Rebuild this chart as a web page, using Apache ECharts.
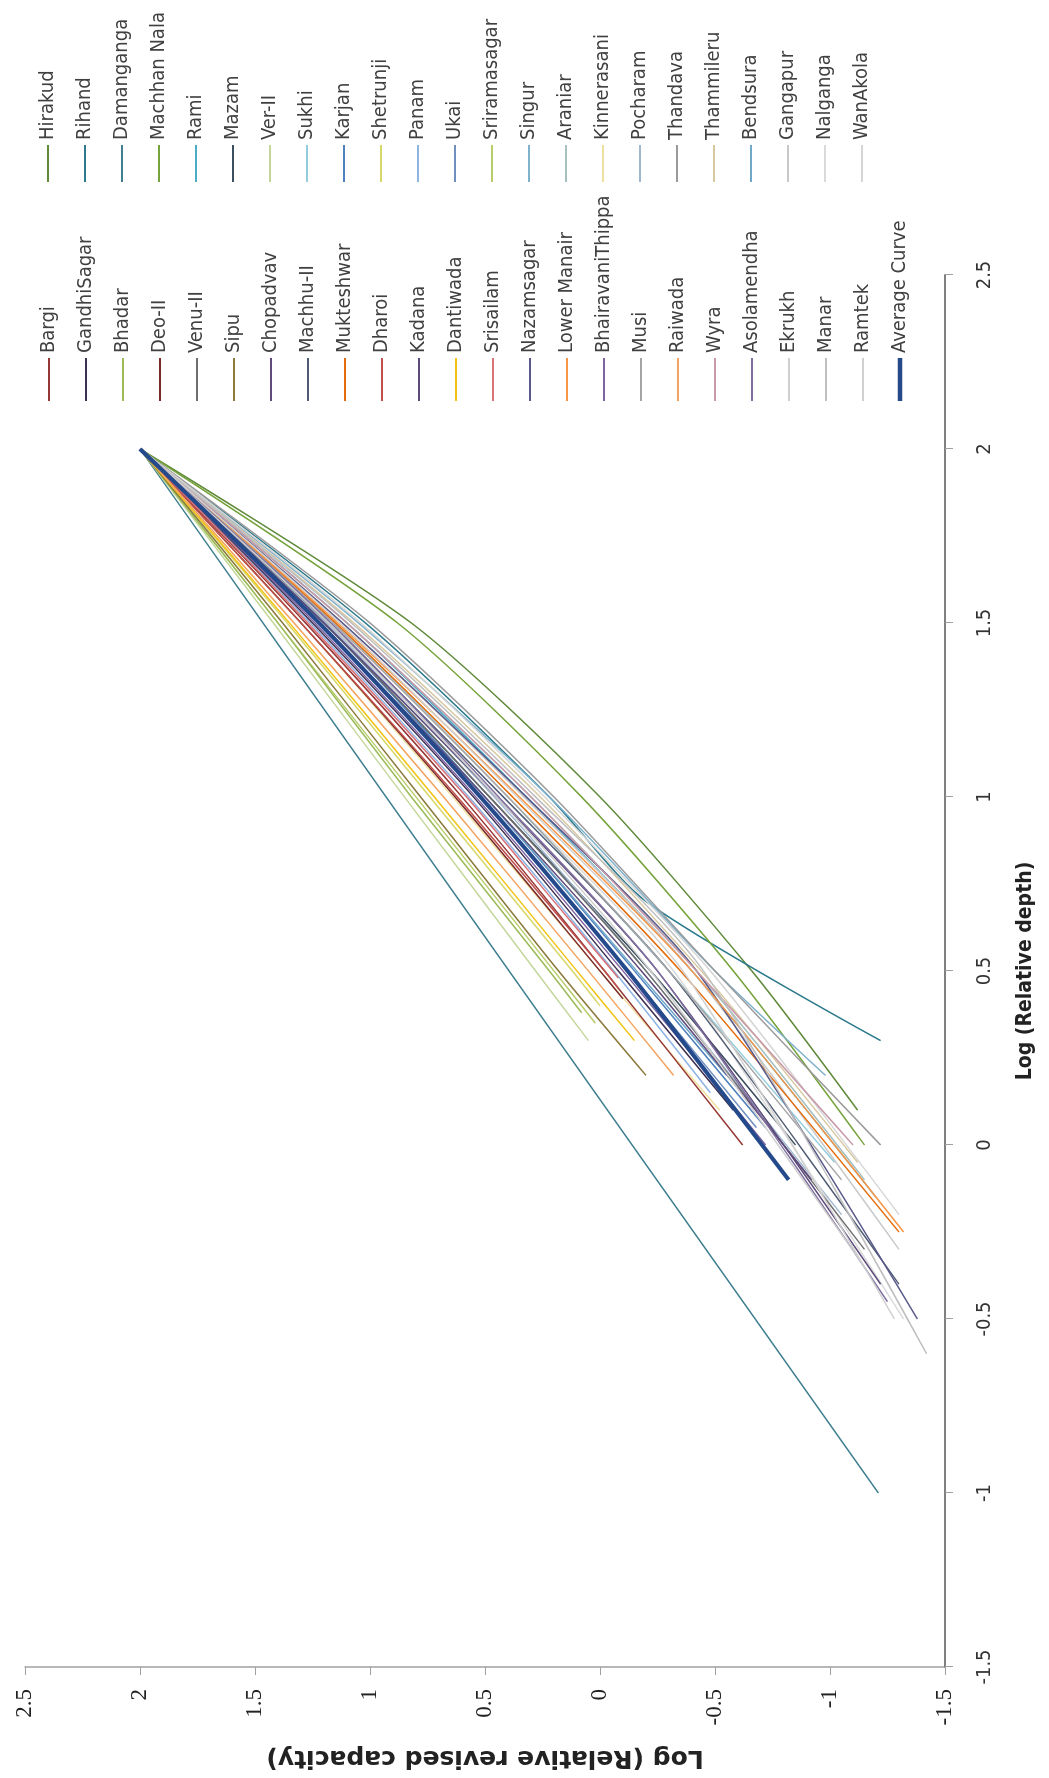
<!DOCTYPE html>
<html><head><meta charset="utf-8">
<script src="https://cdn.jsdelivr.net/npm/echarts@6/dist/echarts.min.js"></script>
<style>
html,body{margin:0;padding:0;background:#fff;width:1049px;height:1778px;overflow:hidden;}
#chart{position:absolute;left:0;top:0;width:1778px;height:1049px;transform-origin:0 0;transform:translateY(1778px) rotate(-90deg);}
</style></head><body><div id="chart"></div>
<script>
// Axis ranges / ticks (log values)
const axisMin = -1.5, axisMax = 2.5, axisStep = 0.5;

// Legend columns (as in the reference)
const legendColA = ['Bargi','GandhiSagar','Bhadar','Deo-II','Venu-II','Sipu','Chopadvav','Machhu-II','Mukteshwar','Dharoi','Kadana','Dantiwada','Srisailam','Nazamsagar','Lower Manair','BhairavaniThippa','Musi','Raiwada','Wyra','Asolamendha','Ekrukh','Manar','Ramtek','Average Curve'];
const legendColB = ['Hirakud','Rihand','Damanganga','Machhan Nala','Rami','Mazam','Ver-II','Sukhi','Karjan','Shetrunji','Panam','Ukai','Sriramasagar','Singur','Araniar','Kinnerasani','Pocharam','Thandava','Thammileru','Bendsura','Gangapur','Nalganga','WanAkola'];

// Each series: [log relative depth, log relative revised capacity]
const bargi        = [[2,2],[1.5,1.28],[1,0.60],[0.5,-0.02],[0.0,-0.62]];
const gandhiSagar  = [[2,2],[1.5,1.25],[1,0.55],[0.5,-0.08],[0.1,-0.58]];
const bhadar       = [[2,2],[1.5,1.40],[1,0.82],[0.5,0.22],[0.38,0.08]];
const deoII        = [[2,2],[1.5,1.30],[1,0.63],[0.5,0.00],[0.42,-0.10]];
const venuII       = [[2,2],[1.5,1.20],[1,0.48],[0.5,-0.20],[-0.3,-1.15]];
const sipu         = [[2,2],[1.5,1.38],[1,0.78],[0.5,0.18],[0.2,-0.20]];
const chopadvav    = [[2,2],[1.5,1.22],[1,0.50],[0.5,-0.18],[-0.1,-0.92]];
const machhuII     = [[2,2],[1.5,1.18],[1,0.42],[0.5,-0.30],[-0.4,-1.30]];
const mukteshwar   = [[2,2],[1.5,1.15],[1,0.38],[0.5,-0.35],[-0.25,-1.30]];
const dharoi       = [[2,2],[1.5,1.30],[1,0.62],[0.5,-0.02],[0.45,-0.08]];
const kadana       = [[2,2],[1.5,1.20],[1,0.45],[0.5,-0.25],[-0.4,-1.22]];
const dantiwada    = [[2,2],[1.5,1.35],[1,0.72],[0.5,0.10],[0.3,-0.15]];
const srisailam    = [[2,2],[1.5,1.27],[1,0.58],[0.7,0.20],[0.48,-0.08]];
const nazamsagar   = [[2,2],[1.5,1.12],[1,0.32],[0.5,-0.42],[-0.5,-1.38]];
const lowerManair  = [[2,2],[1.5,1.14],[1,0.35],[0.5,-0.40],[-0.25,-1.32]];
const bhairavani   = [[2,2],[1.5,1.24],[1,0.54],[0.5,-0.10],[0.0,-0.72]];
const musi         = [[2,2],[1.5,1.16],[1,0.40],[0.5,-0.30],[-0.1,-1.05]];
const raiwada      = [[2,2],[1.5,1.33],[1,0.68],[0.5,0.05],[0.2,-0.32]];
const wyra         = [[2,2],[1.5,1.10],[1,0.30],[0.5,-0.42],[0.0,-1.10]];
const asolamendha  = [[2,2],[1.5,1.17],[1,0.44],[0.5,-0.25],[-0.45,-1.25]];
const ekrukh       = [[2,2],[1.5,1.18],[1,0.45],[0.5,-0.22],[-0.35,-1.15]];
const manar        = [[2,2],[1.5,1.08],[1,0.28],[0.5,-0.45],[-0.6,-1.42]];
const ramtek       = [[2,2],[1.5,1.13],[1,0.36],[0.5,-0.36],[-0.5,-1.28]];
const averageCurve = [[2,2],[1.5,1.22],[1,0.52],[0.5,-0.12],[-0.1,-0.82]];
const hirakud      = [[2,2],[1.5,0.82],[1,0.00],[0.5,-0.66],[0.1,-1.12]];
const rihand       = [[2,2],[1.5,1.02],[1,0.22],[0.7,-0.20],[0.3,-1.22]];
const damanganga   = [[2,2],[1,0.93],[0,-0.14],[-1.0,-1.21]];
const machhanNala  = [[2,2],[1.5,0.88],[1,0.08],[0.5,-0.58],[0.0,-1.15]];
const rami         = [[2,2],[1.5,1.10],[1,0.32],[0.5,-0.40],[-0.15,-1.20]];
const mazam        = [[2,2],[1.5,1.20],[1,0.48],[0.5,-0.22],[0.0,-0.85]];
const verII        = [[2,2],[1.5,1.42],[1,0.85],[0.5,0.28],[0.3,0.05]];
const sukhi        = [[2,2],[1.5,1.15],[1,0.40],[0.5,-0.30],[-0.05,-1.02]];
const karjan       = [[2,2],[1.5,1.20],[1,0.50],[0.5,-0.15],[0.05,-0.72]];
const shetrunji    = [[2,2],[1.5,1.36],[1,0.74],[0.5,0.12],[0.4,0.00]];
const panam        = [[2,2],[1.5,1.26],[1,0.57],[0.5,-0.06],[0.15,-0.48]];
const ukai         = [[2,2],[1.5,1.23],[1,0.52],[0.5,-0.12],[0.05,-0.68]];
const sriramasagar = [[2,2],[1.5,1.40],[1,0.80],[0.5,0.20],[0.35,0.02]];
const singur       = [[2,2],[1.5,1.05],[1,0.22],[0.5,-0.50],[0.2,-0.98]];
const araniar      = [[2,2],[1.5,1.10],[1,0.30],[0.5,-0.42],[-0.1,-1.15]];
const kinnerasani  = [[2,2],[1.5,1.30],[1,0.64],[0.5,0.00],[0.1,-0.52]];
const pocharam     = [[2,2],[1.5,1.19],[1,0.46],[0.5,-0.20],[-0.2,-1.05]];
const thandava     = [[2,2],[1.5,1.00],[1,0.20],[0.5,-0.50],[0.0,-1.22]];
const thammileru   = [[2,2],[1.5,1.07],[1,0.26],[0.5,-0.44],[-0.05,-1.12]];
const bendsura     = [[2,2],[1.5,1.22],[1,0.50],[0.5,-0.16],[0.2,-0.55]];
const gangapur     = [[2,2],[1.5,1.12],[1,0.33],[0.5,-0.40],[-0.3,-1.30]];
const nalganga     = [[2,2],[1.5,1.16],[1,0.40],[0.5,-0.32],[-0.5,-1.32]];
const wanAkola     = [[2,2],[1.5,1.04],[1,0.24],[0.5,-0.48],[-0.2,-1.30]];

const seriesData = {
  'Bargi':bargi,'GandhiSagar':gandhiSagar,'Bhadar':bhadar,'Deo-II':deoII,'Venu-II':venuII,'Sipu':sipu,
  'Chopadvav':chopadvav,'Machhu-II':machhuII,'Mukteshwar':mukteshwar,'Dharoi':dharoi,'Kadana':kadana,
  'Dantiwada':dantiwada,'Srisailam':srisailam,'Nazamsagar':nazamsagar,'Lower Manair':lowerManair,
  'BhairavaniThippa':bhairavani,'Musi':musi,'Raiwada':raiwada,'Wyra':wyra,'Asolamendha':asolamendha,
  'Ekrukh':ekrukh,'Manar':manar,'Ramtek':ramtek,'Average Curve':averageCurve,
  'Hirakud':hirakud,'Rihand':rihand,'Damanganga':damanganga,'Machhan Nala':machhanNala,'Rami':rami,
  'Mazam':mazam,'Ver-II':verII,'Sukhi':sukhi,'Karjan':karjan,'Shetrunji':shetrunji,'Panam':panam,
  'Ukai':ukai,'Sriramasagar':sriramasagar,'Singur':singur,'Araniar':araniar,'Kinnerasani':kinnerasani,
  'Pocharam':pocharam,'Thandava':thandava,'Thammileru':thammileru,'Bendsura':bendsura,
  'Gangapur':gangapur,'Nalganga':nalganga,'WanAkola':wanAkola
};

// Styles (kept apart from the data)
const seriesColors = {
  'Bargi':'#953735','GandhiSagar':'#3f3151','Bhadar':'#9bbb59','Deo-II':'#7a2a2a','Venu-II':'#6f6f6f',
  'Sipu':'#8c7a3c','Chopadvav':'#604a7b','Machhu-II':'#4f5b73','Mukteshwar':'#e46c0a','Dharoi':'#c0504d',
  'Kadana':'#5c4a7a','Dantiwada':'#f2c314','Srisailam':'#d9737a','Nazamsagar':'#5a5a8a','Lower Manair':'#f79646',
  'BhairavaniThippa':'#8064a2','Musi':'#a5a5a5','Raiwada':'#f4a460','Wyra':'#c89aa8','Asolamendha':'#7f6f9f',
  'Ekrukh':'#cfcfcf','Manar':'#bfbfbf','Ramtek':'#d0d0d0','Average Curve':'#254a8c',
  'Hirakud':'#5f8a3a','Rihand':'#2c7a8c','Damanganga':'#3f7f8f','Machhan Nala':'#77a33c','Rami':'#4bacc6',
  'Mazam':'#3c4f5f','Ver-II':'#c4d79b','Sukhi':'#93cddd','Karjan':'#4f81bd','Shetrunji':'#d8d86a',
  'Panam':'#8eb4e3','Ukai':'#6f8fbf','Sriramasagar':'#b8cc6a','Singur':'#7fb2cc','Araniar':'#a6c0c0',
  'Kinnerasani':'#f0e0a0','Pocharam':'#a0b8d0','Thandava':'#9a9a9a','Thammileru':'#d8c8a0',
  'Bendsura':'#6fa8c8','Gangapur':'#c8c8c8','Nalganga':'#dadada','WanAkola':'#d5d5d5'
};

const narrow = "'Liberation Sans Narrow','DejaVu Sans Condensed','Roboto',sans-serif";
const drawOrder = legendColB.concat(legendColA.filter(n => n !== 'Average Curve')).concat(['Average Curve']);

const chart = echarts.init(document.getElementById('chart'), null, {renderer:'canvas', width:1778, height:1049});

function legendCol(names, left, top, w) {
  return {
    orient:'vertical', left:left, top:top, itemWidth:w, itemHeight:12, itemGap:15,
    icon:'path://M0,5 L40,5 L40,7 L0,7 Z',
    textStyle:{fontFamily:narrow, fontSize:20, color:'#404040', lineHeight:22},
    data: names.map(n => n === 'Average Curve' ? {name:n, icon:'path://M0,4 L40,4 L40,8 L0,8 Z'} : {name:n})
  };
}

chart.setOption({
  animation:false,
  backgroundColor:'#fff',
  grid:{left:106, right:275, top:25, bottom:104, containLabel:false},
  xAxis:{
    type:'value', min:axisMin, max:axisMax, interval:axisStep,
    name:'Log (Relative depth)', nameLocation:'middle', nameGap:70,
    nameTextStyle:{fontFamily:narrow, fontSize:21, fontWeight:'bold', color:'#222'},
    axisLine:{onZero:false, lineStyle:{color:'#808080', width:2}},
    axisTick:{show:true, inside:false, length:8, lineStyle:{color:'#a0a0a0'}},
    axisLabel:{margin:30, fontFamily:narrow, fontSize:20, color:'#333'},
    splitLine:{show:false}
  },
  yAxis:{
    type:'value', min:axisMin, max:axisMax, interval:axisStep,
    name:'Log (Relative revised capacity)', nameLocation:'middle', nameGap:78,
    nameTextStyle:{fontFamily:"'DejaVu Sans',sans-serif", fontSize:25, fontWeight:'bold', color:'#222'},
    axisLine:{onZero:false, lineStyle:{color:'#a0a0a0', width:1.5}},
    axisTick:{show:true, inside:false, length:8, lineStyle:{color:'#a0a0a0'}},
    axisLabel:{margin:22, fontFamily:"'Liberation Serif','DejaVu Serif',serif", fontSize:23, color:'#222'},
    splitLine:{show:false}
  },
  legend:[legendCol(legendColA, 1372, 33, 43), legendCol(legendColB, 1591, 32, 37)],
  series: drawOrder.map(n => ({
    name:n, type:'line', data:seriesData[n], symbol:'none', smooth:0.25,
    z: n === 'Average Curve' ? 5 : 2,
    lineStyle:{width: n === 'Average Curve' ? 4 : 1.5, color:seriesColors[n]},
    itemStyle:{color:seriesColors[n]}
  }))
});
</script></body></html>
